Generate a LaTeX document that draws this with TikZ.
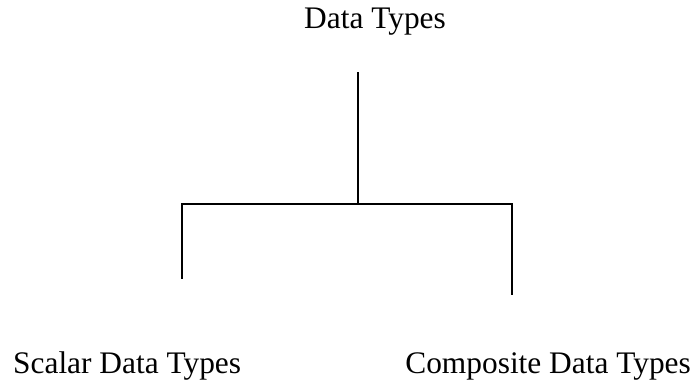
\documentclass[tikz,border=0pt]{standalone}
\usepackage{fontspec}
\setmainfont{Liberation Serif}
\begin{document}
\begin{tikzpicture}[x=1bp,y=-1bp,
  lbl/.style={inner sep=0pt,font=\fontsize{31.5}{36}\selectfont},
  conn/.style={line width=1.3bp,line cap=rect}]
\useasboundingbox (0,0) rectangle (696,382);
\node[lbl,anchor=base] (top) at (375,28) {Data Types};
\node[lbl,anchor=base west] (scalar) at (13,373) {Scalar Data Types};
\node[lbl,anchor=base east] (comp) at (691,373) {Composite Data Types};
\coordinate (t0) at (358,73);
\coordinate (j) at (358,204);
\coordinate (l0) at (182,204);
\coordinate (l1) at (182,278);
\coordinate (r0) at (512,204);
\coordinate (r1) at (512,294);
\draw[conn] (t0) -- (j);
\draw[conn] (l1) -- (l0) -- (r0) -- (r1);
\end{tikzpicture}
\end{document}
